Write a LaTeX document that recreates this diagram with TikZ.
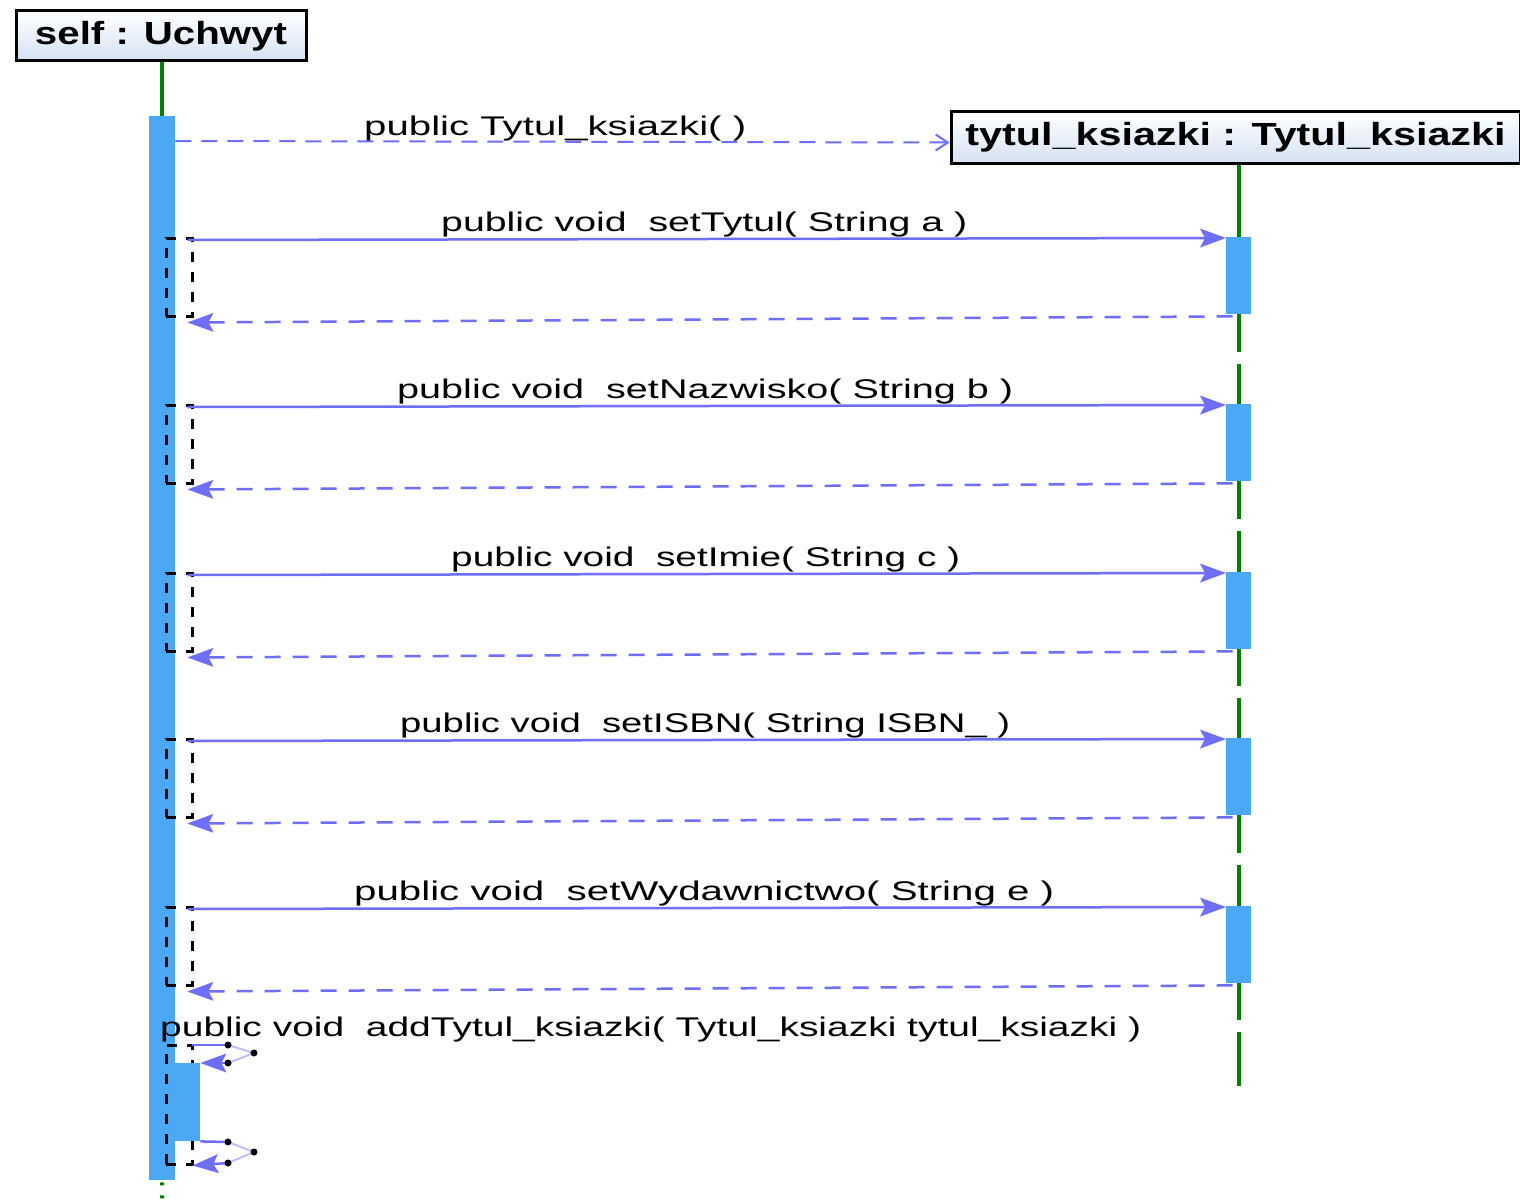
\documentclass[tikz,border=0pt]{standalone}
\usepackage{graphicx}
\usepackage{fontspec}
\setmainfont{Liberation Sans}
\usetikzlibrary{arrows.meta}
\definecolor{msgc}{RGB}{110,110,250}
\definecolor{actc}{RGB}{74,168,245}
\definecolor{lifec}{RGB}{0,128,0}
\definecolor{boxbot}{RGB}{212,226,243}
\newcommand{\fitw}[2]{\resizebox{#1pt}{\height}{#2}}
\newcommand{\lfont}{\fontsize{27}{30}\selectfont}
\newcommand{\bfont}{\fontsize{32}{36}\selectfont\bfseries}
\tikzset{
  objbox/.style={draw=black, line width=3pt, top color=white, bottom color=boxbot,
    inner sep=0pt, anchor=north west, rectangle},
  actbar/.style={fill=actc, draw=none, inner sep=0pt, anchor=north west, rectangle, minimum width=25pt},
  execbox/.style={draw=black, dash pattern=on 10pt off 10pt, line width=2.5pt, inner sep=0pt,
    anchor=north west, rectangle, minimum width=26pt},
  lifeline/.style={draw=lifec, line width=4pt},
  callline/.style={draw=msgc, line width=2.5pt},
  bigtip/.tip={Stealth[length=26pt 0 0,width=19pt 0 0,inset=5pt 0 0,line width=0pt]},
  call/.style={callline, -bigtip},
  ret/.style={call, dash pattern=on 16pt off 12pt},
  create/.style={draw=msgc, line width=2pt, dash pattern=on 16pt off 10pt,
    -{Straight Barb[length=12pt 0 0,width=16pt 0 0,line width=2pt]}},
  lbl/.style={anchor=base west, inner sep=0pt, font=\lfont},
  hdot/.style={fill=black}
}
\begin{document}
\begin{tikzpicture}[x=1pt,y=-1pt]
\useasboundingbox (0,0) rectangle (1520,1199);
\fill[white] (0,0) rectangle (1520,1199);

% objects
\node[objbox, minimum width=290pt, minimum height=50pt] (self) at (14.5,9.5)
  {\fitw{252}{\bfont self : Uchwyt}};
\node[objbox, minimum width=569pt, minimum height=52pt] (tbox) at (949.5,110)
  {\fitw{540}{\bfont tytul\_ksiazki : Tytul\_ksiazki}};

% tytul lifeline (drawn below the activation bars)
\coordinate (tend) at (1238.5,1086);
\draw[lifeline, dash pattern=on 187pt off 12pt on 155pt off 12pt on 155pt off 12pt on 155pt off 12pt on 155pt off 12pt on 200pt off 12pt]
  (tbox.south -| tend) -- (tend);

% self activation
\node[actbar, minimum width=26pt, minimum height=1064pt] (selfact) at (149,116) {};
\draw[lifeline] (self.south -| selfact.north) -- (selfact.north);
\coordinate (selfend) at (162,1199);
\draw[lifeline, dash pattern=on 3pt off 10pt] ([yshift=-2pt]selfact.south) -- (selfend);

% constructor
\draw[create] ([yshift=-25pt]selfact.north east) -- ([yshift=-5pt]tbox.west);
\node[lbl] (lab0) at (364,135) {\fitw{382}{public Tytul\_ksiazki( )}};

% calls
\foreach \i/\y/\lx/\lw/\txt in {
  1/237/441/526/{setTytul( String a )},
  2/404/397/616/{setNazwisko( String b )},
  3/572/451/509/{setImie( String c )},
  4/738/400/610/{setISBN( String ISBN\_ )},
  5/906/354/700/{setWydawnictwo( String e )}} {
  \node[actbar, minimum height=77pt] (tact\i) at (1226,\y) {};
  \node[execbox, minimum height=78pt] (exec\i) at (165,\y) {};
  \draw[call] ([xshift=-6pt,yshift=-3pt]exec\i.north east) -- ([yshift=-1pt]tact\i.north west);
  \draw[ret] ([xshift=-6pt,yshift=-2pt]tact\i.south) -- ([xshift=-6pt,yshift=-5pt]exec\i.south east);
  \node[lbl] (lab\i) at (\lx,\y-6) {\fitw{\lw}{public void~~\txt}};
}

% self message
\node[lbl] (lab6) at (160,1036) {\fitw{981}{public void~~addTytul\_ksiazki( Tytul\_ksiazki tytul\_ksiazki )}};
\node[execbox, minimum height=119pt] (exec6) at (165,1044) {};
\node[actbar, minimum height=78pt] (inner) at (175,1063) {};
\coordinate (sa1) at (228,1045);
\coordinate (sa2) at (254,1053);
\coordinate (sa3) at (228,1063);
\coordinate (sb1) at (228,1142);
\coordinate (sb2) at (254,1152);
\coordinate (sb3) at (228,1163);
\draw[callline] ([xshift=-2pt,yshift=-1pt]exec6.north east) -- (sa1);
\draw[msgc!45, line width=2pt] (sa1) -- (sa2) -- (sa3);
\draw[call] (sa3) -- (inner.north east);
\draw[callline] (inner.south east) -- (sb1);
\draw[msgc!45, line width=2pt] (sb1) -- (sb2) -- (sb3);
\draw[call] (sb3) -- ([xshift=-1pt]exec6.south east);
\foreach \c in {sa1,sa2,sa3,sb1,sb2,sb3} \fill[hdot] (\c) circle (3.5pt);
\end{tikzpicture}
\end{document}
